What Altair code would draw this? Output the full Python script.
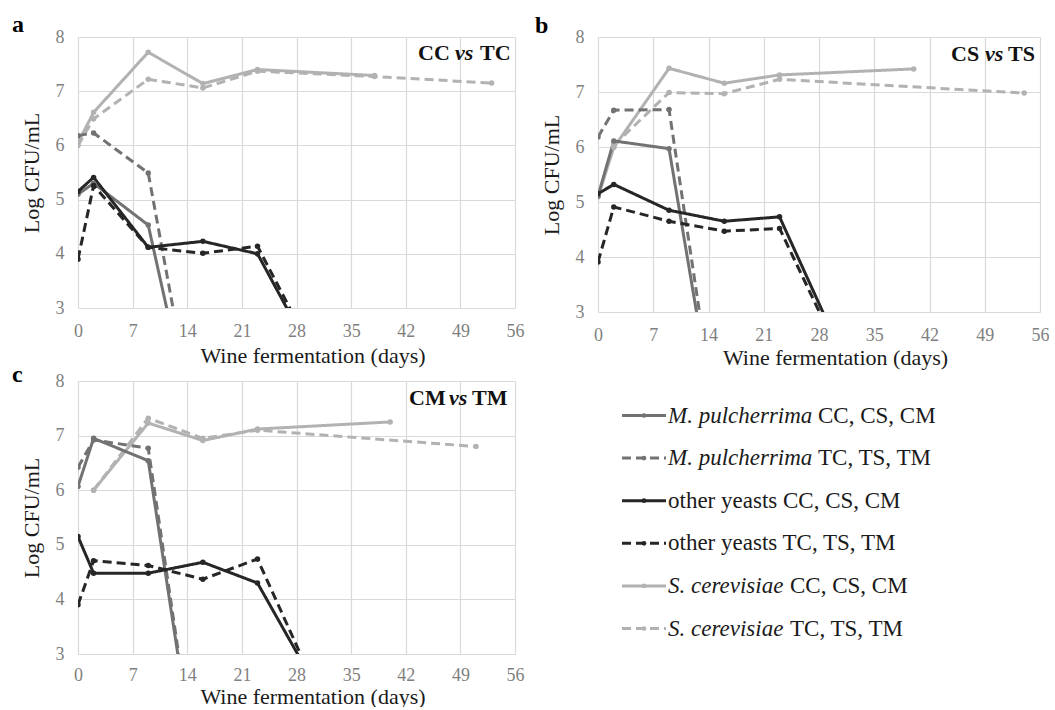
import altair as alt
import pandas as pd

FONT = "'Liberation Serif', 'Times New Roman', Times, serif"

x_ticks = [0, 7, 14, 21, 28, 35, 42, 49, 56]
y_ticks = [3, 4, 5, 6, 7, 8]

series_names = [
    "M. pulcherrima CC, CS, CM",
    "M. pulcherrima TC, TS, TM",
    "other yeasts CC, CS, CM",
    "other yeasts TC, TS, TM",
    "S. cerevisiae CC, CS, CM",
    "S. cerevisiae TC, TS, TM",
]
legend_italic = ["M. pulcherrima", "M. pulcherrima", "", "", "S. cerevisiae", "S. cerevisiae"]
legend_regular = ["CC, CS, CM", "TC, TS, TM", "other yeasts CC, CS, CM", "other yeasts TC, TS, TM",
                  "CC, CS, CM", "TC, TS, TM"]
series_colors = ["#727272", "#727272", "#262626", "#262626", "#b2b2b2", "#b2b2b2"]
series_dashes = [[1, 0], [9, 5], [1, 0], [9, 5], [1, 0], [9, 5]]

# ---- Panel a (CC vs TC)
a_mp_c_day = [0, 2, 9, 16]
a_mp_c_val = [5.10, 5.30, 4.53, 0.0]
a_mp_t_day = [0, 2, 9, 16]
a_mp_t_val = [6.18, 6.23, 5.49, 0.0]
a_oy_c_day = [0, 2, 9, 16, 23, 38]
a_oy_c_val = [5.15, 5.41, 4.12, 4.23, 4.00, 0.0]
a_oy_t_day = [0, 2, 9, 16, 23, 38]
a_oy_t_val = [3.90, 5.26, 4.12, 4.01, 4.14, 0.0]
a_sc_c_day = [0, 2, 9, 16, 23, 38]
a_sc_c_val = [6.05, 6.61, 7.72, 7.14, 7.40, 7.29]
a_sc_t_day = [0, 2, 9, 16, 23, 38, 53]
a_sc_t_val = [6.00, 6.49, 7.22, 7.06, 7.37, 7.27, 7.15]

# ---- Panel b (CS vs TS)
b_mp_c_day = [0, 2, 9, 16]
b_mp_c_val = [5.11, 6.11, 5.97, 0.0]
b_mp_t_day = [0, 2, 9, 16]
b_mp_t_val = [6.18, 6.67, 6.68, 0.0]
b_oy_c_day = [0, 2, 9, 16, 23, 38]
b_oy_c_val = [5.15, 5.32, 4.85, 4.65, 4.73, 0.0]
b_oy_t_day = [0, 2, 9, 16, 23, 38]
b_oy_t_val = [3.91, 4.91, 4.65, 4.47, 4.52, 0.0]
b_sc_c_day = [0, 2, 9, 16, 23, 40]
b_sc_c_val = [5.09, 5.99, 7.43, 7.16, 7.31, 7.42]
b_sc_t_day = [2, 9, 16, 23, 54]
b_sc_t_val = [6.03, 6.99, 6.97, 7.23, 6.98]

# ---- Panel c (CM vs TM)
c_mp_c_day = [0, 2, 9, 16]
c_mp_c_val = [6.07, 6.95, 6.54, 0.0]
c_mp_t_day = [0, 2, 9, 16]
c_mp_t_val = [6.42, 6.92, 6.77, 0.0]
c_oy_c_day = [0, 2, 9, 16, 23, 40]
c_oy_c_val = [5.15, 4.48, 4.48, 4.68, 4.30, 0.0]
c_oy_t_day = [0, 2, 9, 16, 23, 38]
c_oy_t_val = [3.90, 4.71, 4.62, 4.37, 4.74, 0.0]
c_sc_c_day = [2, 9, 16, 23, 40]
c_sc_c_val = [6.00, 7.23, 6.91, 7.12, 7.25]
c_sc_t_day = [2, 9, 16, 23, 51]
c_sc_t_val = [6.00, 7.32, 6.95, 7.10, 6.80]


def build_df(groups):
    rows = []
    # draw order: S. cerevisiae, M. pulcherrima, other yeasts
    for idx in [4, 5, 0, 1, 2, 3]:
        days, vals = groups[idx]
        for d, v in zip(days, vals):
            rows.append({"series": series_names[idx], "day": d, "value": v})
    return pd.DataFrame(rows)


df_a = build_df([(a_mp_c_day, a_mp_c_val), (a_mp_t_day, a_mp_t_val), (a_oy_c_day, a_oy_c_val),
                 (a_oy_t_day, a_oy_t_val), (a_sc_c_day, a_sc_c_val), (a_sc_t_day, a_sc_t_val)])
df_b = build_df([(b_mp_c_day, b_mp_c_val), (b_mp_t_day, b_mp_t_val), (b_oy_c_day, b_oy_c_val),
                 (b_oy_t_day, b_oy_t_val), (b_sc_c_day, b_sc_c_val), (b_sc_t_day, b_sc_t_val)])
df_c = build_df([(c_mp_c_day, c_mp_c_val), (c_mp_t_day, c_mp_t_val), (c_oy_c_day, c_oy_c_val),
                 (c_oy_t_day, c_oy_t_val), (c_sc_c_day, c_sc_c_val), (c_sc_t_day, c_sc_t_val)])

color_scale = alt.Scale(domain=series_names, range=series_colors)
dash_scale = alt.Scale(domain=series_names, range=series_dashes)


def panel(df, letter, left_word, right_word, width, height, letter_pos, word_x, word_y,
          x_label_pad, x_title_y):
    x = alt.X("day:Q", scale=alt.Scale(domain=[0, 56], nice=False),
              axis=alt.Axis(values=x_ticks, title="Wine fermentation (days)",
                            labelPadding=x_label_pad, labelFlush=False,
                            titleBaseline="alphabetic", titleAlign="center",
                            titleX=width / 2 + 16, titleY=x_title_y))
    y = alt.Y("value:Q", scale=alt.Scale(domain=[3, 8], nice=False, zero=False),
              axis=alt.Axis(values=y_ticks, title="Log CFU/mL", labelPadding=14, titlePadding=12,
                            labelFlush=False))
    lines = alt.Chart(df).mark_line(clip=True, strokeWidth=3).encode(
        x=x, y=y,
        color=alt.Color("series:N", scale=color_scale, legend=None),
        strokeDash=alt.StrokeDash("series:N", scale=dash_scale, legend=None),
        detail="series:N",
    )
    pts = alt.Chart(df).mark_circle(clip=True, size=30, opacity=1).encode(
        x=x, y=y, color=alt.Color("series:N", scale=color_scale, legend=None)
    )
    one = pd.DataFrame({"k": [0]})
    let = alt.Chart(one).mark_text(font=FONT, fontSize=24, fontWeight="bold", align="left",
                                   baseline="alphabetic", color="#000000").encode(
        x=alt.value(letter_pos[0]), y=alt.value(letter_pos[1]), text=alt.value(letter))
    t1 = alt.Chart(one).mark_text(font=FONT, fontSize=22, fontWeight="bold", align="left",
                                  baseline="alphabetic", color="#111111").encode(
        x=alt.value(word_x[0]), y=alt.value(word_y), text=alt.value(left_word))
    t2 = alt.Chart(one).mark_text(font=FONT, fontSize=22, fontWeight="bold", fontStyle="italic",
                                  align="left", baseline="alphabetic", color="#111111").encode(
        x=alt.value(word_x[1]), y=alt.value(word_y), text=alt.value("vs"))
    t3 = alt.Chart(one).mark_text(font=FONT, fontSize=22, fontWeight="bold", align="left",
                                  baseline="alphabetic", color="#111111").encode(
        x=alt.value(word_x[2]), y=alt.value(word_y), text=alt.value(right_word))
    return alt.layer(lines, pts, let, t1, t2, t3).properties(width=width, height=height)


pa = panel(df_a, "a", "CC", "TC", 437, 271, (-66, -5), (340, 377, 402), 23, 14, 54)
pb = panel(df_b, "b", "CS", "TS", 442, 275, (-63, -4), (353, 387, 410), 24, 14, 52)
pc = panel(df_c, "c", "CM", "TM", 437, 273, (-66, 1), (331, 371, 394), 24, 12, 49)

# ---- manual legend (mixed italic / regular text)
italic_width = {"M. pulcherrima": 150, "S. cerevisiae": 122, "": 0}
leg_df = pd.DataFrame({
    "series": series_names,
    "row": list(range(6)),
    "ital": legend_italic,
    "reg": legend_regular,
})
LEG_X0 = 88
leg_df["xreg"] = [LEG_X0 + 46 + italic_width[t] for t in legend_italic]
leg_y = alt.Y("row:Q", scale=alt.Scale(domain=[0, 5], range=[34.5, 247.5]), axis=None)
leg_rule = alt.Chart(leg_df).mark_rule(strokeWidth=3).encode(
    x=alt.value(LEG_X0), x2=alt.value(LEG_X0 + 44), y=leg_y,
    color=alt.Color("series:N", scale=color_scale, legend=None),
    strokeDash=alt.StrokeDash("series:N", scale=dash_scale, legend=None),
)
leg_pt = alt.Chart(leg_df).mark_circle(size=22, opacity=1).encode(
    x=alt.value(LEG_X0 + 22), y=leg_y,
    color=alt.Color("series:N", scale=color_scale, legend=None),
)
leg_it = alt.Chart(leg_df).mark_text(font=FONT, fontSize=23, fontStyle="italic", align="left",
                                     baseline="middle", color="#1a1a1a").encode(
    x=alt.value(LEG_X0 + 46), y=leg_y, text="ital:N")
leg_reg = alt.Chart(leg_df).mark_text(font=FONT, fontSize=23, align="left",
                                      baseline="middle", color="#1a1a1a").encode(
    x=alt.X("xreg:Q", scale=None), y=leg_y, text="reg:N")
legend = alt.layer(leg_rule, leg_pt, leg_it, leg_reg).properties(width=400, height=273)

row1 = alt.hconcat(pa, pb, spacing=11)
row2 = alt.hconcat(pc, legend, spacing=10)
chart = alt.vconcat(row1, row2, spacing=-5).configure(
    padding={"left": 12, "top": 13, "right": 0, "bottom": 0}
).configure_view(stroke=None).configure_axis(
    grid=True, gridColor="#d9d9d9", gridWidth=1.2, domain=False, ticks=False,
    labelFont=FONT, labelFontSize=18, labelColor="#7f7f7f",
    titleFont=FONT, titleFontSize=22, titleFontWeight="normal", titleColor="#1a1a1a",
)

chart.save("out.html", embed_options={"renderer": "svg", "actions": False})
